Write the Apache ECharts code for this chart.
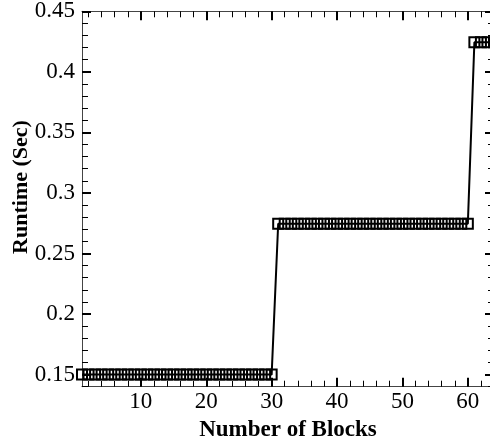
<!DOCTYPE html>
<html>
<head>
<meta charset="utf-8">
<script src="https://cdn.jsdelivr.net/npm/echarts@6/dist/echarts.min.js"></script>
<style>html,body{margin:0;padding:0;background:#fff}#c{width:490px;height:437px}</style>
</head>
<body>
<div id="c"></div>
<script>
const blocks = [1,2,3,4,5,6,7,8,9,10,11,12,13,14,15,16,17,18,19,20,21,22,23,24,25,26,27,28,29,30,
  31,32,33,34,35,36,37,38,39,40,41,42,43,44,45,46,47,48,49,50,51,52,53,54,55,56,57,58,59,60,61,62,63,64];
const runtime = [0.150,0.150,0.150,0.150,0.150,0.150,0.150,0.150,0.150,0.150,
  0.150,0.150,0.150,0.150,0.150,0.150,0.150,0.150,0.150,0.150,
  0.150,0.150,0.150,0.150,0.150,0.150,0.150,0.150,0.150,0.150,
  0.2745,0.2745,0.2745,0.2745,0.2745,0.2745,0.2745,0.2745,0.2745,0.2745,
  0.2745,0.2745,0.2745,0.2745,0.2745,0.2745,0.2745,0.2745,0.2745,0.2745,
  0.2745,0.2745,0.2745,0.2745,0.2745,0.2745,0.2745,0.2745,0.2745,0.2745,
  0.4245,0.4245,0.4245,0.4245];
const xMajorTicks = [10,20,30,40,50,60];
const xMinorTicks = [2,4,6,8,12,14,16,18,22,24,26,28,32,34,36,38,42,44,46,48,52,54,56,58,62,64];
const yMajorTicks = [0.15,0.2,0.25,0.3,0.35,0.4,0.45];
const yMinorTicks = [0.14,0.16,0.17,0.18,0.19,0.21,0.22,0.23,0.24,0.26,0.27,0.28,0.29,0.31,0.32,0.33,0.34,0.36,0.37,0.38,0.39,0.41,0.42,0.43,0.44];
const xTitle = 'Number of Blocks';
const yTitle = 'Runtime (Sec)';

const FONT = '"Liberation Serif", "Times New Roman", serif';
const AX = '#444';
const xRange = {min: 1, max: 64};
const yRange = {min: 0.14, max: 0.45};

function xAx(pos, vals, len, w, labels, line) {
  return Object.assign({
    type: 'value', position: pos, ...xRange,
    splitLine: {show: false},
    axisLine: {show: line, onZero: false, lineStyle: {color: AX, width: 1}},
    axisTick: {show: true, inside: true, length: len, customValues: vals, lineStyle: {color: '#000', width: w}},
    axisLabel: labels ? {show: true, customValues: vals, color: '#000', fontFamily: FONT, fontSize: 23, margin: 4} : {show: false}
  }, labels ? {name: xTitle, nameLocation: 'middle', nameGap: 22,
    nameTextStyle: {color: '#000', fontFamily: FONT, fontSize: 23, fontWeight: 'bold'}} : {});
}
function yAx(pos, vals, len, w, labels, line) {
  return {
    type: 'value', position: pos, ...yRange,
    splitLine: {show: false},
    axisLine: {show: line, onZero: false, lineStyle: {color: AX, width: 1}},
    axisTick: {show: true, inside: true, length: len, customValues: vals, lineStyle: {color: '#000', width: w}},
    axisLabel: labels ? {show: true, customValues: vals, color: '#000', fontFamily: FONT, fontSize: 23, margin: 7,
      formatter: v => String(+v.toFixed(2))} : {show: false}
  };
}

const chart = echarts.init(document.getElementById('c'), null, {renderer: 'canvas'});
chart.setOption({
  backgroundColor: '#fff',
  animation: false,
  grid: {left: 82, top: 11.3, width: 412, height: 375.4, containLabel: false, outerBoundsMode: 'none'},
  graphic: [{
    type: 'text', x: 21, y: 187, rotation: Math.PI / 2,
    style: {text: yTitle, fill: '#000', font: 'bold 22px ' + FONT, align: 'center', verticalAlign: 'middle'}
  }],
  xAxis: [
    xAx('bottom', xMajorTicks, 9, 2, true, true),
    xAx('bottom', xMinorTicks, 6, 1, false, false),
    xAx('top', xMajorTicks, 9, 2, false, true),
    xAx('top', xMinorTicks, 6, 1, false, false)
  ],
  yAxis: [
    yAx('left', yMajorTicks, 9, 2, true, true),
    yAx('left', yMinorTicks, 6, 1, false, false),
    yAx('right', yMajorTicks, 9, 2, false, true),
    yAx('right', yMinorTicks, 6, 1, false, false)
  ],
  series: [{
    type: 'line',
    xAxisIndex: 0, yAxisIndex: 0,
    data: blocks.map((b, i) => [b, runtime[i]]),
    symbol: 'rect', symbolSize: [10, 10],
    showAllSymbol: true,
    clip: false,
    lineStyle: {color: '#000', width: 2},
    itemStyle: {color: 'rgba(0,0,0,0)', borderColor: '#000', borderWidth: 2}
  }]
});
</script>
</body>
</html>
